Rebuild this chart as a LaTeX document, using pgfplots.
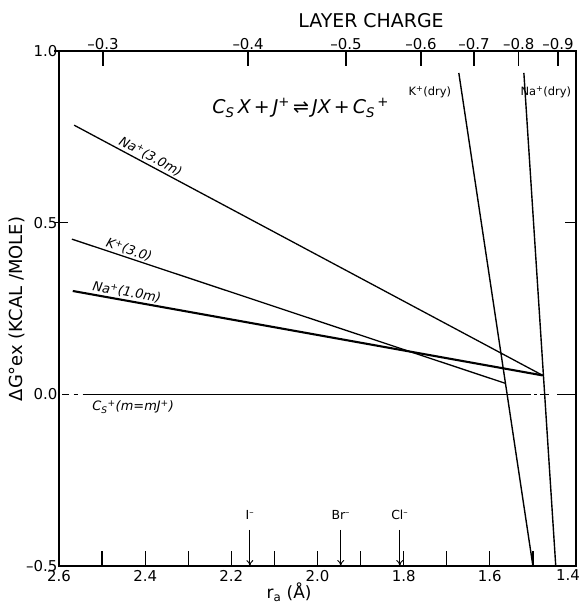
\documentclass[border=0pt]{standalone}
\usepackage{pgfplots}
\pgfplotsset{compat=1.18}
\usepackage{fontspec}
\setmainfont{DejaVu Sans}
\usetikzlibrary{arrows.meta}
\begin{document}
\begin{tikzpicture}[x=1bp,y=1bp]
\useasboundingbox (0,0) rectangle (583,603);
\begin{axis}[at={(59bp,37bp)}, anchor=south west,
  width=517bp, height=515bp, scale only axis,
  x dir=reverse, xmin=1.4, xmax=2.6, ymin=-0.5, ymax=1.0,
  axis line style={line width=1.5pt},
  xtick={1.4,1.6,1.8,2.0,2.2,2.4,2.6},
  xticklabels={\makebox[8bp][r]{1.4},1.6,1.8,2.0,2.2,2.4,2.6},
  minor xtick={1.5,1.7,1.9,2.1,2.3,2.5},
  xtick pos=bottom,
  major tick length=15bp, minor tick length=15bp,
  every tick/.style={black, line width=1.3pt},
  ytick={-0.5,0,0.5,1.0},
  yticklabels={–0.5,0.0,0.5,1.0},
  ytick style={draw=none},
  ticklabel style={font=\fontsize{15}{15}\selectfont},
  xticklabel style={yshift=-0.5bp},
  yticklabel style={xshift=2bp},
  clip=false,
]
% zero line (solid middle, broken ends)
\addplot[black, line width=1.4pt] coordinates {(2.545,0) (1.505,0)};
\addplot[black, line width=1.4pt] coordinates {(2.592,0) (2.576,0)};
\addplot[black, line width=1.4pt] coordinates {(2.566,0) (2.556,0)};
\addplot[black, line width=1.4pt] coordinates {(1.498,0) (1.490,0)};
\addplot[black, line width=1.4pt] coordinates {(1.484,0) (1.462,0)};
\addplot[black, line width=1.4pt] coordinates {(1.444,0) (1.400,0)};
% Na+ (3.0 m)
\addplot[black, line width=1.3pt] coordinates {(2.565,0.784) (1.477,0.055)};
% K+ (3.0)
\addplot[black, line width=1.3pt] coordinates {(2.570,0.452) (1.564,0.032)};
% Na+ (1.0 m)
\addplot[black, line width=2.1pt] coordinates {(2.568,0.301) (1.477,0.055)};
% K+ (dry)
\addplot[black, line width=1.4pt] coordinates {(1.672,0.936) (1.500,-0.5)};
% Na+ (dry)
\addplot[black, line width=1.4pt] coordinates {(1.521,0.936) (1.447,-0.5)};
% labels
\node[anchor=south, inner sep=2pt, rotate=-28, font=\fontsize{13}{13}\selectfont\itshape] at (axis cs:2.396,0.671) {Na\textsuperscript{+}(3.0m)};
\node[anchor=south, inner sep=1.5pt, rotate=-18.4, font=\fontsize{13}{13}\selectfont\itshape] at (axis cs:2.443,0.399) {K\textsuperscript{+}(3.0)};
\node[anchor=south, inner sep=2pt, rotate=-10.2, font=\fontsize{13}{13}\selectfont\itshape] at (axis cs:2.446,0.274) {Na\textsuperscript{+}(1.0m)};
\node[anchor=north, font=\fontsize{13}{13}\selectfont\itshape] at (axis cs:2.428,-0.008) {C\textsubscript{S}\textsuperscript{+}(m=mJ\textsuperscript{+})};
\node[font=\fontsize{11.5}{11.5}\selectfont] at (axis cs:1.739,0.880) {K\textsuperscript{+}(dry)};
\node[font=\fontsize{11.5}{11.5}\selectfont] at (axis cs:1.470,0.880) {Na\textsuperscript{+}(dry)};
\node[font=\fontsize{19}{19}\selectfont\itshape] at (axis cs:2.039,0.834) {C\textsubscript{S}\,X\,+\,J\textsuperscript{+}\,⇌\,JX\,+\,C\textsubscript{S}\textsuperscript{\,+}};
% anion arrows
\draw[line width=0.9pt, -{To[length=6pt,width=7pt]}] (axis cs:2.157,-0.395) -- (axis cs:2.157,-0.5);
\draw[line width=0.9pt, -{To[length=6pt,width=7pt]}] (axis cs:1.946,-0.395) -- (axis cs:1.946,-0.5);
\draw[line width=0.9pt, -{To[length=6pt,width=7pt]}] (axis cs:1.809,-0.395) -- (axis cs:1.809,-0.5);
\node[font=\fontsize{12.5}{12.5}\selectfont] at (axis cs:2.157,-0.352) {I\textsuperscript{–}};
\node[font=\fontsize{12.5}{12.5}\selectfont] at (axis cs:1.946,-0.352) {Br\textsuperscript{–}};
\node[font=\fontsize{12.5}{12.5}\selectfont] at (axis cs:1.809,-0.352) {Cl\textsuperscript{–}};
% y ticks
\draw[line width=1.3pt] ([xshift=-5bp]axis cs:2.6,0.5) -- ([xshift=9bp]axis cs:2.6,0.5);
\draw[line width=1.3pt] (axis cs:1.4,0.5) -- ([xshift=-11bp]axis cs:1.4,0.5);
\draw[line width=1.3pt] (axis cs:2.6,1.0) -- ([xshift=-5bp]axis cs:2.6,1.0);
\end{axis}
\begin{axis}[at={(59bp,37bp)}, anchor=south west,
  width=517bp, height=515bp, scale only axis,
  x dir=reverse, xmin=1.4, xmax=2.6, ymin=-0.5, ymax=1.0,
  axis x line*=top, hide y axis,
  axis line style={line width=1.5pt},
  xtick={2.498,2.161,1.934,1.760,1.637,1.533,1.442},
  xticklabels={–0.3,–0.4,–0.5,–0.6,–0.7,–0.8,–0.9},
  major tick length=15bp,
  every tick/.style={black, line width=1.3pt},
  ticklabel style={font=\fontsize{15}{15}\selectfont},
  xticklabel style={yshift=-2bp},
]
\addplot[draw=none] coordinates {(2,0)};
\end{axis}
\node[font=\fontsize{19}{19}\selectfont] at (371,582) {LAYER CHARGE};
\node[font=\fontsize{17}{17}\selectfont] at (289,11) {r\textsubscript{a} (Å)};
\node[rotate=90, font=\fontsize{18}{18}\selectfont] at (17,294) {ΔG°ex (KCAL /MOLE)};
\end{tikzpicture}
\end{document}
